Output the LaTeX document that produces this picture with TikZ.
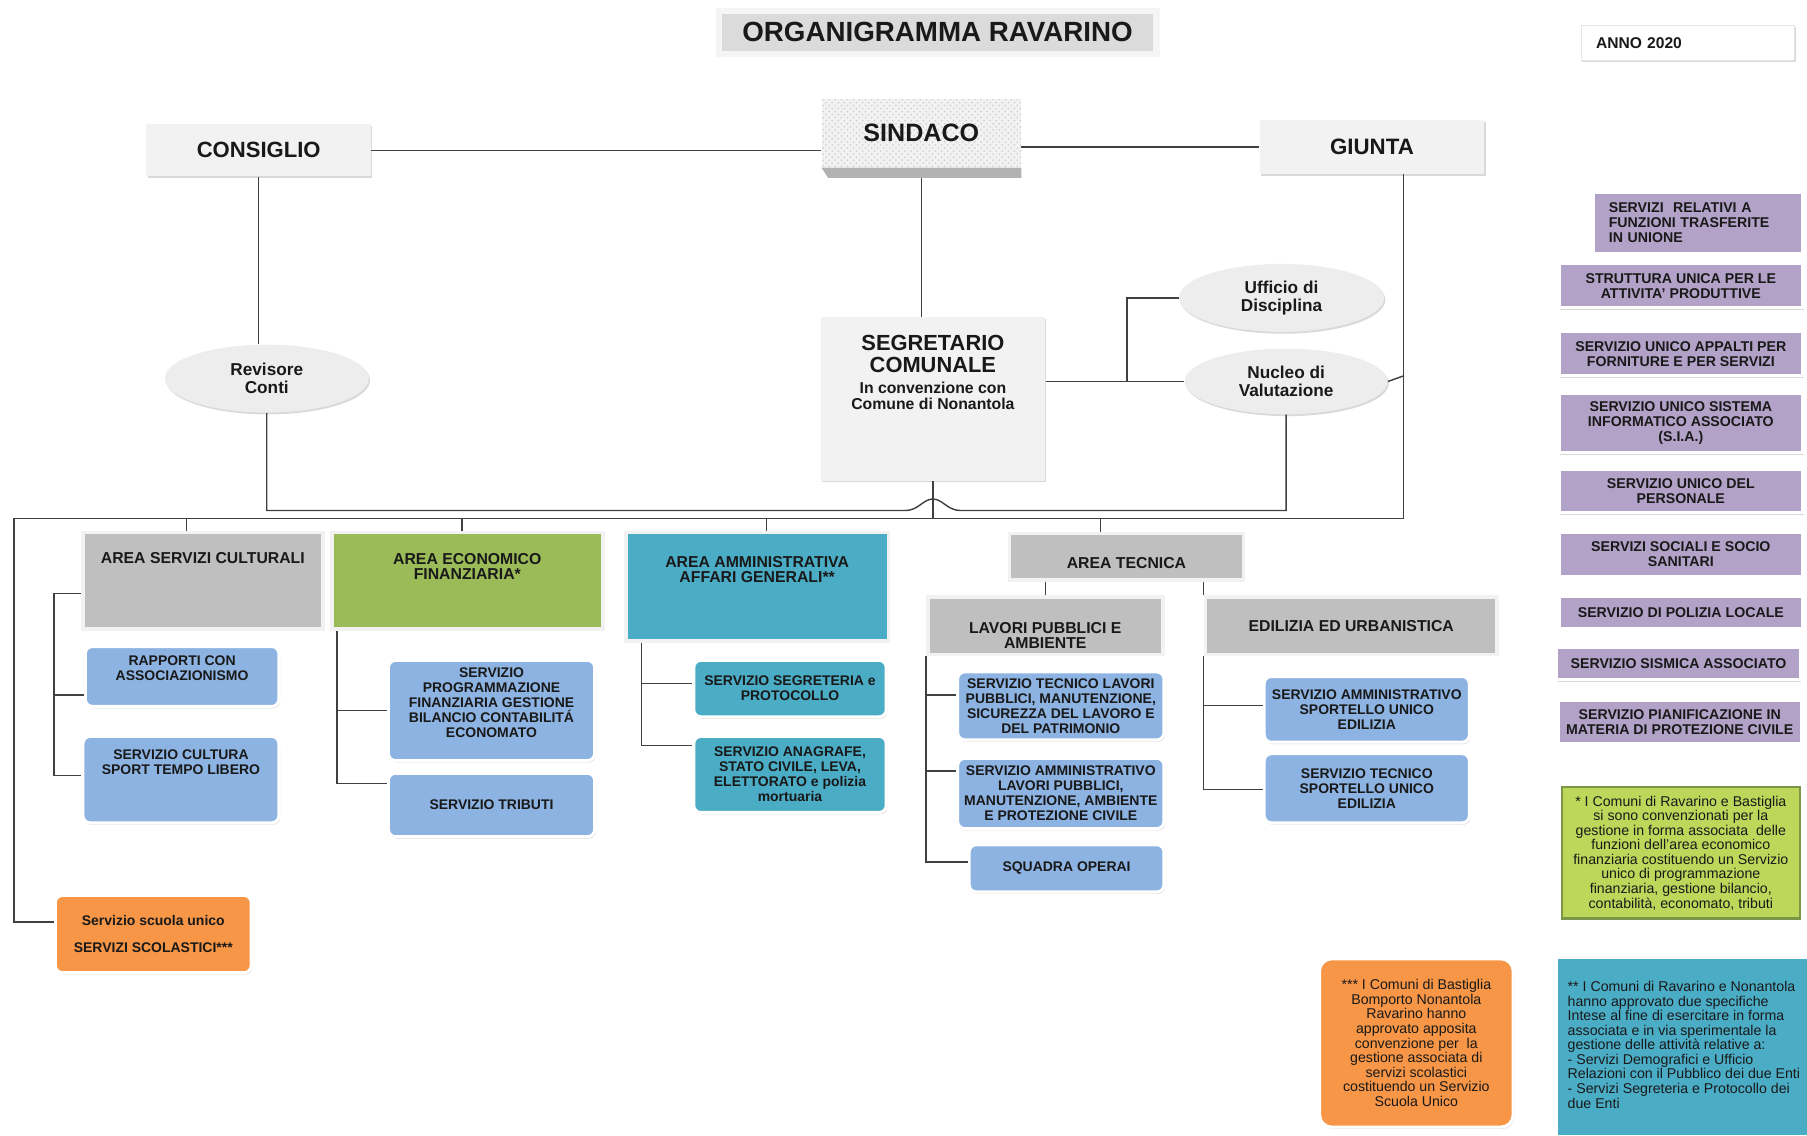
\documentclass[tikz,border=0pt]{standalone}
\usepackage{fontspec}
\setmainfont{Liberation Sans}
\usetikzlibrary{positioning,shapes.geometric,shadows,patterns}

\definecolor{grigioarea}{HTML}{BFBFBF}
\definecolor{grigiochiaro}{HTML}{F2F2F2}
\definecolor{verde}{HTML}{9BBB59}
\definecolor{ottanio}{HTML}{4BACC6}
\definecolor{azzurro}{HTML}{8DB3E2}
\definecolor{viola}{HTML}{B3A2C7}
\definecolor{arancio}{HTML}{F79646}
\definecolor{limone}{HTML}{BDD75B}

\tikzset{
  misura/.style 2 args={minimum width=#1*0.02cm, minimum height=#2*0.02cm},
  linea/.style={line width=0.7pt, draw=black!75},
  cella/.style={inner sep=0pt, align=center, text=black!90},
  ombra/.style={drop shadow={shadow xshift=0.6pt, shadow yshift=-0.9pt, opacity=0.3}},
  chiaro/.style={cella, fill=grigiochiaro, ombra},
  sind/.style={cella, preaction={fill=gray!10}, pattern=crosshatch dots, pattern color=gray!35,
    font=\bfseries\fontsize{12.4}{13}\selectfont},
  ovale/.style={cella, ellipse, fill=gray!14, ombra, font=\bfseries\fontsize{8.5}{8.8}\selectfont},
  area/.style={cella, draw=gray!10, line width=1.8pt, ombra, font=\bfseries\fontsize{7.8}{7.6}\selectfont},
  areatesto/.style={cella, font=\bfseries\fontsize{7.8}{7.6}\selectfont},
  serv/.style={cella, rounded corners=3.5pt, fill=azzurro, draw=white, line width=1.5pt, ombra,
    font=\bfseries\fontsize{6.9}{7.4}\selectfont},
  unione/.style={cella, fill=viola, draw=white, line width=1.5pt, ombra,
    font=\bfseries\fontsize{7}{7.4}\selectfont},
  nota/.style={cella, font=\fontsize{7}{7.2}\selectfont}
}

\begin{document}
\begin{tikzpicture}[x=0.02cm, y=-0.02cm]
    \useasboundingbox (0,0) rectangle (1568,985);

    \node[cella, fill=gray!28, draw=gray!8, line width=3pt, ombra, misura={380}{37},
      font=\bfseries\fontsize{13.7}{14}\selectfont] (titolo) at (813.5,28) {ORGANIGRAMMA RAVARINO};
    \node[cella, fill=white, draw=gray!20, ombra, misura={185}{30}, align=left, text width=3.18cm,
      font=\bfseries\fontsize{7.7}{8}\selectfont] (anno) at (1464.5,37) {ANNO 2020};

    \node[chiaro, misura={195}{45}, font=\bfseries\fontsize{10.9}{11}\selectfont] (consiglio) at (224.5,130.5) {CONSIGLIO};
    \node[sind, misura={173}{59}] (sindaco) at (799.5,115.5) {SINDACO};
    \fill[gray!60] (sindaco.south west) -- (sindaco.south east) -- ++(0,9)
      -- ([xshift=0.12cm, yshift=-0.18cm]sindaco.south west) -- cycle;
    \node[chiaro, misura={195}{47}, font=\bfseries\fontsize{11}{11}\selectfont] (giunta) at (1190.5,127.5) {GIUNTA};

    \node[ovale, misura={177}{59}] (revisore) at (231.5,328.5) {Revisore\\Conti};
    \node[chiaro, misura={195}{142}] (segretario) at (809.5,346) {};
    \node[cella, font=\bfseries\fontsize{10.8}{10.8}\selectfont] (segrtesto) at (809.5,323)
      {SEGRETARIO\\COMUNALE\\[-0.6pt]{\fontsize{7.8}{8}\selectfont In convenzione con}\\[-2.9pt]{\fontsize{7.8}{8}\selectfont Comune di Nonantola}};
    \node[ovale, misura={178}{59}] (ufficio) at (1112,258.5) {Ufficio di\\Disciplina};
    \node[ovale, misura={176}{57}] (nucleo) at (1116,331) {Nucleo di\\Valutazione};

    \node[area, fill=grigioarea, misura={208}{84}] (cult) at (176,504) {};
    \node[areatesto] (culttesto) at (176,484) {AREA SERVIZI CULTURALI};
    \node[area, fill=verde, misura={235}{84}] (econ) at (405.5,504) {};
    \node[areatesto] (econtesto) at (405.5,491.5) {AREA ECONOMICO\\FINANZIARIA*};
    \node[area, fill=ottanio, misura={228}{94}] (amm) at (657,509) {};
    \node[areatesto] (ammtesto) at (657,494) {AREA AMMINISTRATIVA\\AFFARI GENERALI**};
    \node[area, fill=grigioarea, misura={203}{40}] (tecn) at (977.5,483) {};
    \node[areatesto] (tecntesto) at (977.5,489) {AREA TECNICA};
    \node[area, fill=grigioarea, misura={204}{50}] (lavori) at (907,543) {};
    \node[areatesto] (lavoritesto) at (907,551.5) {LAVORI PUBBLICI E\\AMBIENTE};
    \node[area, fill=grigioarea, misura={253}{50}] (edil) at (1172.5,543) {EDILIZIA ED URBANISTICA};

    \node[serv, misura={168}{52}] (rapp) at (158,587) {};
    \node[cella, font=\bfseries\fontsize{6.9}{7.4}\selectfont] (rapptesto) at (158,579.5) {RAPPORTI CON\\ASSOCIAZIONISMO};
    \node[serv, misura={170}{75}] (cultura) at (157,676.5) {};
    \node[cella, font=\bfseries\fontsize{6.9}{7.4}\selectfont] (culturatesto) at (157,661.5) {SERVIZIO CULTURA\\SPORT TEMPO LIBERO};
    \node[serv, misura={179}{87}] (prog) at (426.5,616.5) {};
    \node[cella, font=\bfseries\fontsize{6.9}{7.4}\selectfont] (progtesto) at (426.5,610)
      {SERVIZIO\\PROGRAMMAZIONE\\FINANZIARIA GESTIONE\\BILANCIO CONTABILITÁ\\ECONOMATO};
    \node[serv, misura={179}{55}] (tributi) at (426.5,698.5) {SERVIZIO TRIBUTI};
    \node[serv, fill=ottanio, misura={167}{49}] (segr) at (685.5,597.5) {SERVIZIO SEGRETERIA e\\PROTOCOLLO};
    \node[serv, fill=ottanio, misura={167}{66}] (anagr) at (685.5,672)
      {SERVIZIO ANAGRAFE,\\STATO CIVILE, LEVA,\\ELETTORATO e polizia\\mortuaria};
    \node[serv, misura={179}{59}] (tec1) at (920.5,612.5)
      {SERVIZIO TECNICO LAVORI\\PUBBLICI, MANUTENZIONE,\\SICUREZZA DEL LAVORO E\\DEL PATRIMONIO};
    \node[serv, misura={179}{61}] (tec2) at (920.5,688.5)
      {SERVIZIO AMMINISTRATIVO\\LAVORI PUBBLICI,\\MANUTENZIONE, AMBIENTE\\E PROTEZIONE CIVILE};
    \node[serv, misura={169}{41}] (squadra) at (925.5,753.5) {SQUADRA OPERAI};
    \node[serv, misura={178}{57}] (edilA) at (1186,615.5) {SERVIZIO AMMINISTRATIVO\\SPORTELLO UNICO\\EDILIZIA};
    \node[serv, misura={178}{60}] (edilB) at (1186,684) {SERVIZIO TECNICO\\SPORTELLO UNICO\\EDILIZIA};
    \node[serv, fill=arancio, misura={170}{67}] (scuola) at (133,810.5) {Servizio scuola unico\\[6pt]SERVIZI SCOLASTICI***};

    \node[unione, misura={181}{53}, align=left, text width=3.1cm] (u0) at (1473.5,193.5)
      {SERVIZI\ \ RELATIVI A\\FUNZIONI TRASFERITE\\IN UNIONE};
    \foreach \n/\x/\y/\h/\t in {
        u1/1458.5/248/38/{STRUTTURA UNICA PER LE\\ATTIVITA' PRODUTTIVE},
        u2/1458.5/307/38/{SERVIZIO UNICO APPALTI PER\\FORNITURE E PER SERVIZI},
        u3/1458.5/367/52/{SERVIZIO UNICO SISTEMA\\INFORMATICO ASSOCIATO\\(S.I.A.)},
        u4/1458.5/426/38/{SERVIZIO UNICO DEL\\PERSONALE},
        u5/1458.5/481/38/{SERVIZI SOCIALI E SOCIO\\SANITARI},
        u6/1458.5/531.5/27/{SERVIZIO DI POLIZIA LOCALE},
        u7/1456.5/576/28/{SERVIZIO SISMICA ASSOCIATO},
        u8/1457.5/626.5/37/{SERVIZIO PIANIFICAZIONE IN\\MATERIA DI PROTEZIONE CIVILE}} {
        \node[unione, misura={211}{\h}] (\n) at (\x,\y) {\t};
    }

    \node[nota, fill=limone, draw=verde!80!black, line width=1pt, misura={207}{114}] (notaA) at (1458.5,740)
      {* I Comuni di Ravarino e Bastiglia\\si sono convenzionati per la\\gestione in forma associata\ \ delle\\funzioni dell'area economico\\finanziaria costituendo un Servizio\\unico di programmazione\\finanziaria, gestione bilancio,\\contabilità, economato, tributi};
    \node[nota, fill=arancio, rounded corners=6pt, draw=white, line width=1.5pt, ombra, misura={168}{146}] (notaC) at (1229,905)
      {*** I Comuni di Bastiglia\\Bomporto Nonantola\\Ravarino hanno\\approvato apposita\\convenzione per\ \ la\\gestione associata di\\servizi scolastici\\costituendo un Servizio\\Scuola Unico};
    \node[nota, fill=ottanio, misura={216}{153}] (notaB) at (1460,908.5) {};
    \node[nota, anchor=west, align=left] (notaBtesto) at (1360,906.5)
      {** I Comuni di Ravarino e Nonantola\\hanno approvato due specifiche\\Intese al fine di esercitare in forma\\associata e in via sperimentale la\\gestione delle attività relative a:\\- Servizi Demografici e Ufficio\\Relazioni con il Pubblico dei due Enti\\- Servizi Segreteria e Protocollo dei\\due Enti};

    \coordinate (nodo) at (978,331);
    \coordinate (sx) at (12,450);

    \draw[linea] (consiglio.east) -- (consiglio.east -| sindaco.west);
    \draw[linea] (giunta.west) -- (giunta.west -| sindaco.east);
    \draw[linea] (consiglio.south) -- (consiglio.south |- revisore.north);
    \draw[linea] (sindaco.south) ++(0,9) -- (sindaco.south |- segretario.north);
    \draw[linea] (segretario.east |- nodo) -- (nucleo.west);
    \draw[linea] (nodo) |- (ufficio.west);
    \draw[linea] (nucleo.east) -- ++(14,-5);

    \draw[linea] (revisore.south) |- (785.5,443) .. controls (797,443) and (801,433) .. (809.5,433)
      .. controls (818,433) and (822,443) .. (833.5,443) -| (nucleo.south);
    \draw[linea] (segretario.south) -- (segretario.south |- sx);
    \draw[linea] ([xshift=0.55cm]giunta.south) |- (sx) |- (scuola.west |- 0,800);
    \foreach \x/\n in {162/cult,401/econ,665/amm,955/tecn}
        \draw[linea] (\x,450) -- (\n.north -| \x,450);

    \draw[linea] (lavori.north) -- (lavori.north |- tecn.south);
    \draw[linea] (edil.north west) -- (edil.north west |- tecn.south);

    \draw[linea] (cult.west |- 0,515) -| (47,603) -- (rapp.west |- 0,603);
    \draw[linea] (47,603) |- (cultura.west |- 0,673);
    \draw[linea] ([xshift=0.12cm]econ.south west) |- (prog.west);
    \draw[linea] ([xshift=0.12cm]econ.south west) |- (tributi.west |- 0,680);
    \draw[linea] ([xshift=0.3cm]amm.south west) |- (segr.west |- 0,593);
    \draw[linea] ([xshift=0.3cm]amm.south west) |- (anagr.west |- 0,647);
    \draw[linea] (lavori.south west) |- (tec1.west |- 0,603);
    \draw[linea] (lavori.south west) |- (tec2.west |- 0,669);
    \draw[linea] (lavori.south west) |- (squadra.west |- 0,748);
    \draw[linea] (edil.south west) |- (edilA.west |- 0,612);
    \draw[linea] (edil.south west) |- (edilB.west |- 0,685);
\end{tikzpicture}
\end{document}
